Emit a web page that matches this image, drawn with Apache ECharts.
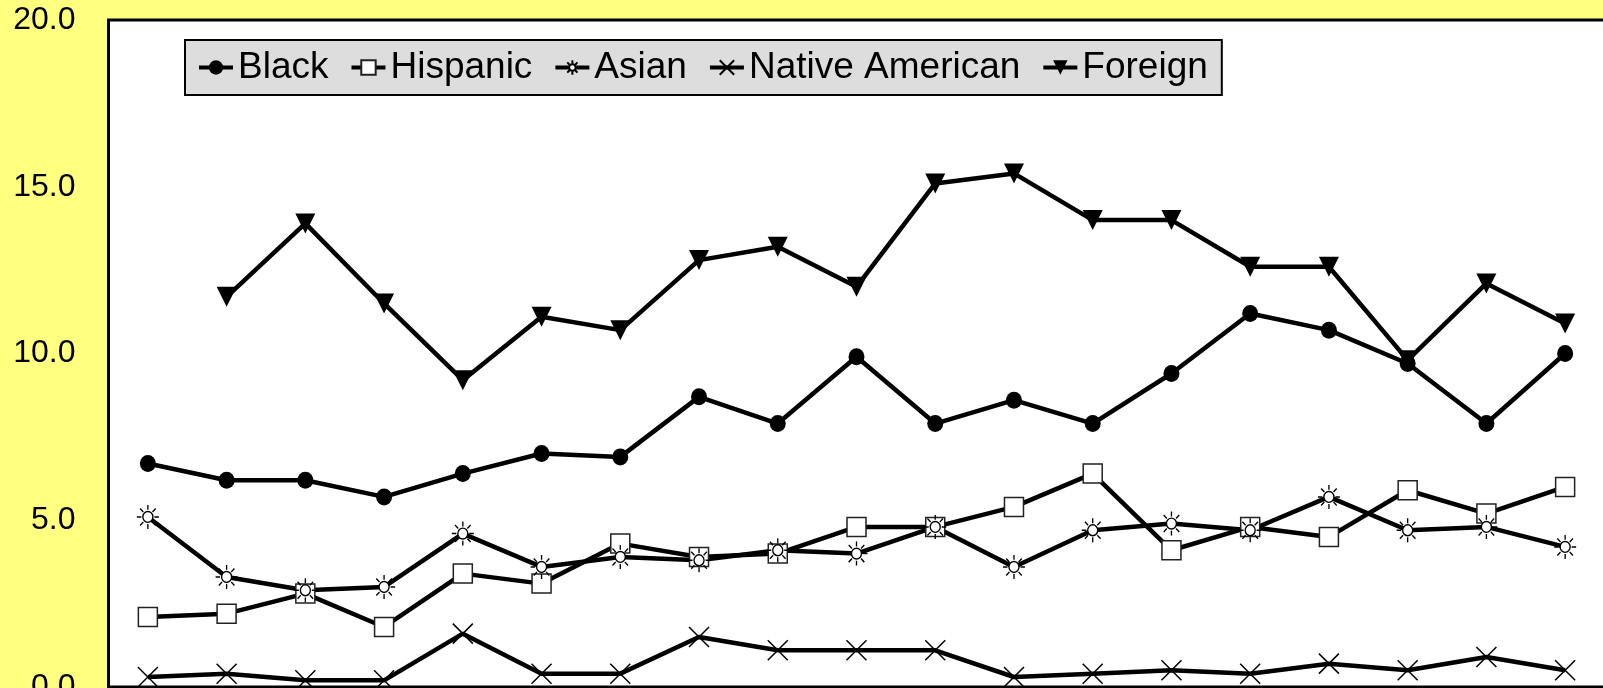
<!DOCTYPE html>
<html>
<head>
<meta charset="utf-8">
<script src="https://cdn.jsdelivr.net/npm/echarts@6/dist/echarts.min.js"></script>
<style>
html,body{margin:0;padding:0;background:#ffff80;}
#chart{width:1603px;height:688px;}
</style>
</head>
<body>
<div id="chart"></div>
<script>
// Categories (x-axis labels fall outside the visible picture)
const categories = ['1','2','3','4','5','6','7','8','9','10','11','12','13','14','15','16','17','18','19'];
const yTicks = [0, 5, 10, 15, 20];

const black    = [6.7, 6.2, 6.2, 5.7, 6.4, 7.0, 6.9, 8.7, 7.9, 9.9, 7.9, 8.6, 7.9, 9.4, 11.2, 10.7, 9.7, 7.9, 10.0];
const hispanic = [2.1, 2.2, 2.8, 1.8, 3.4, 3.1, 4.3, 3.9, 4.0, 4.8, 4.8, 5.4, 6.4, 4.1, 4.8, 4.5, 5.9, 5.2, 6.0];
const asian    = [5.1, 3.3, 2.9, 3.0, 4.6, 3.6, 3.9, 3.8, 4.1, 4.0, 4.8, 3.6, 4.7, 4.9, 4.7, 5.7, 4.7, 4.8, 4.2];
const native   = [0.3, 0.4, 0.2, 0.2, 1.6, 0.4, 0.4, 1.5, 1.1, 1.1, 1.1, 0.3, 0.4, 0.5, 0.4, 0.7, 0.5, 0.9, 0.5];
const foreign  = [null, 11.7, 13.9, 11.5, 9.2, 11.1, 10.7, 12.8, 13.2, 12.0, 15.1, 15.4, 14.0, 14.0, 12.6, 12.6, 9.8, 12.1, 10.9];

const FONT = '"Liberation Sans", Arial, Helvetica, sans-serif';
const SUN = 'path://M17,12 A5,5 0 1,1 7,12 A5,5 0 1,1 17,12 Z M12,1 L12,5.5 M12,18.5 L12,23 M1,12 L5.5,12 M18.5,12 L23,12 M4.2,4.2 L7.4,7.4 M16.6,16.6 L19.8,19.8 M19.8,4.2 L16.6,7.4 M7.4,16.6 L4.2,19.8';
const XMARK = 'path://M0,0 L20,20 M20,0 L0,20';

function lineSeries(name, data, symbol, size, itemStyle, extra) {
  return Object.assign({
    name: name,
    type: 'line',
    data: data,
    symbol: symbol,
    symbolSize: size,
    showAllSymbol: true,
    lineStyle: { color: '#000', width: 4.5 },
    itemStyle: itemStyle,
    emphasis: { disabled: true },
    animation: false
  }, extra || {});
}

const chart = echarts.init(document.getElementById('chart'), null, { renderer: 'canvas' });
chart.setOption({
  backgroundColor: '#ffff80',
  animation: false,
  textStyle: { fontFamily: FONT },
  grid: {
    left: 108.5, top: 20, width: 1496, bottom: 1,
    outerBoundsMode: 'none', containLabel: false,
    show: true, backgroundColor: '#ffffff', borderColor: '#000', borderWidth: 3
  },
  legend: {
    left: 185, top: 40,
    padding: [9, 14, 9, 12],
    itemGap: 21, itemWidth: 34, itemHeight: 18,
    backgroundColor: '#dddddd', borderColor: '#000', borderWidth: 2,
    lineStyle: { width: 4 },
    textStyle: { fontSize: 37, color: '#000', fontFamily: FONT },
    data: ['Black', 'Hispanic', 'Asian', 'Native American', 'Foreign']
  },
  xAxis: {
    type: 'category', data: categories, boundaryGap: true,
    axisLine: { show: false }, axisTick: { show: false }, axisLabel: { show: false },
    splitLine: { show: false }
  },
  yAxis: {
    type: 'value', min: yTicks[0], max: yTicks[yTicks.length - 1], interval: 5,
    axisLine: { show: false }, axisTick: { show: false }, splitLine: { show: false },
    axisLabel: {
      margin: 33, fontSize: 32, color: '#000', fontFamily: FONT,
      formatter: v => v.toFixed(1)
    }
  },
  series: [
    lineSeries('Black', black, 'circle', [16, 17], { color: '#000' }),
    lineSeries('Hispanic', hispanic, 'rect', 19, { color: '#fff', borderColor: '#222', borderWidth: 1.5 }),
    lineSeries('Asian', asian, SUN, [22, 24], { color: '#fff', borderColor: '#000', borderWidth: 1.4 }),
    lineSeries('Native American', native, XMARK, 20, { color: 'rgba(0,0,0,0)', borderColor: '#000', borderWidth: 1.5 }),
    lineSeries('Foreign', foreign, 'triangle', [20, 20], { color: '#000' }, { symbolRotate: 180 })
  ]
});
</script>
</body>
</html>
